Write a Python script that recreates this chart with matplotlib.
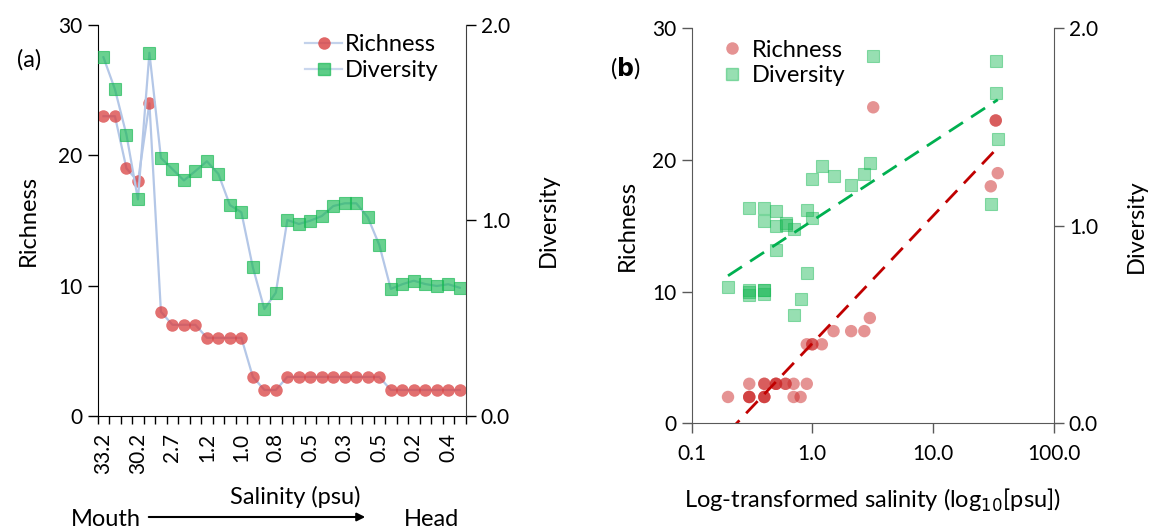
import numpy as np
import matplotlib
matplotlib.use("Agg")
import matplotlib.pyplot as plt
from matplotlib.lines import Line2D

plt.rcParams['font.family'] = ['Lato', 'DejaVu Sans']

# ---- data (32 sites, mouth -> head) ----
salinity = [33.2, 33.2, 34.5, 30.2, 3.2, 3.0, 2.7, 2.1, 1.5, 1.2, 1.0, 0.9, 1.0, 0.9, 0.7, 0.8,
            0.6, 0.7, 0.5, 0.4, 0.5, 0.3, 0.4, 0.6, 0.5, 0.3, 0.4, 0.2, 0.3, 0.3, 0.4, 0.4]
richness = [23, 23, 19, 18, 24, 8, 7, 7, 7, 6, 6, 6, 6, 3, 2, 2,
            3, 3, 3, 3, 3, 3, 3, 3, 3, 2, 2, 2, 2, 2, 2, 2]
diversity = [1.835, 1.671, 1.439, 1.108, 1.858, 1.320, 1.263, 1.205, 1.253, 1.303, 1.238,
             1.079, 1.042, 0.760, 0.547, 0.631, 1.003, 0.982, 0.999, 1.023, 1.074, 1.088,
             1.088, 1.016, 0.875, 0.650, 0.674, 0.692, 0.675, 0.665, 0.674, 0.656]
label_step = 3
logx_ticks = [0.1, 1.0, 10.0, 100.0]

RED_A = '#d94040'
GRN = '#19b955'
RED_B = '#cc2929'
LINE = '#b4c7e7'
FS = 15     # tick labels
FL = 17     # axis labels, legends

fig = plt.figure(figsize=(11.49, 5.28), dpi=100)

# ================= panel (a) =================
W, H = 1149, 528
axa = fig.add_axes([97.7 / W, 1 - 416 / H, (465.5 - 97.7) / W, (416 - 25) / H])
axa2 = axa.twinx()
n = len(richness)
x = np.arange(n)
axa.plot(x, richness, color=LINE, lw=1.6, zorder=1)
axa.plot(x, richness, 'o', ms=9, color=RED_A, alpha=0.75, mec='none', zorder=2)
axa2.plot(x, diversity, color=LINE, lw=1.6, zorder=1)
axa2.plot(x, diversity, 's', ms=8.5, color=GRN, alpha=0.65, mec=GRN, mew=0.8, zorder=2)

axa.set_xlim(-0.5, n - 0.5)
axa.set_ylim(0, 30)
axa2.set_ylim(0, 2)
axa.set_yticks([0, 10, 20, 30])
axa2.set_yticks([0, 1, 2])
axa2.set_yticklabels(['0.0', '1.0', '2.0'])
idx = list(range(0, n, label_step))
axa.set_xticks(idx)
axa.set_xticklabels([f"{salinity[i]:.1f}" for i in idx], rotation=90)
axa.set_xticks(np.arange(-0.5, n, 1.0), minor=True)
axa.tick_params(axis='x', which='major', length=0, pad=12, labelsize=FS)
axa.tick_params(axis='x', which='minor', length=6, width=1, direction='out')
axa.tick_params(axis='y', length=7, width=1, labelsize=FS, pad=4)
axa2.tick_params(axis='y', length=7, width=1, labelsize=FS, pad=4)
for ax in (axa, axa2):
    ax.spines['top'].set_visible(False)
axa.spines['right'].set_visible(False)
axa2.spines['left'].set_visible(False)
axa2.spines['bottom'].set_visible(False)
axa.spines['left'].set_color('black')
axa2.spines['right'].set_color('#404040')
axa.set_ylabel('Richness', fontsize=FL, labelpad=14)
axa2.set_ylabel('Diversity', fontsize=FL, labelpad=20)
axa.text(-0.187, 0.91, '(a)', transform=axa.transAxes, fontsize=FL, ha='center', va='center')

h1 = Line2D([], [], color=LINE, lw=1.6, marker='o', ms=9, mfc=RED_A, mec='none', alpha=0.8)
h2 = Line2D([], [], color=LINE, lw=1.6, marker='s', ms=8.5, mfc=GRN, mec=GRN, alpha=0.7)
axa2.legend([h1, h2], ['Richness', 'Diversity'], loc='upper left', bbox_to_anchor=(0.537, 1.0),
            frameon=False, fontsize=FL, handlelength=1.6, handletextpad=0.1, labelspacing=0.2,
            borderaxespad=0)

fig.text(295 / W, 1 - 497 / H, 'Salinity (psu)', fontsize=FL, ha='center', va='center')
fig.text(106 / W, 1 - 519 / H, 'Mouth', fontsize=FL, ha='center', va='center')
fig.text(432 / W, 1 - 519 / H, 'Head', fontsize=FL, ha='center', va='center')
fig.add_artist(matplotlib.patches.FancyArrowPatch((146 / W, 1 - 517 / H), (368 / W, 1 - 517 / H),
               transform=fig.transFigure, arrowstyle='-|>', mutation_scale=12, lw=1.5, color='black'))

# ================= panel (b) =================
axb = fig.add_axes([691.7 / W, 1 - 423.3 / H, (1053.5 - 691.7) / W, (423.3 - 28.3) / H])
axb2 = axb.twinx()
axb.set_xscale('log')
axb.scatter(salinity, richness, s=80, marker='o', color=RED_B, alpha=0.5, edgecolors='none',
            zorder=2)
axb2.scatter(salinity, diversity, s=85, marker='s', color=GRN, alpha=0.45, edgecolors=GRN,
             linewidths=0.8, zorder=2)

lx = np.log10(salinity)
xs = np.array([min(salinity), max(salinity)])
pr = np.polyfit(lx, richness, 1)
pd_ = np.polyfit(lx, diversity, 1)
axb.plot(xs, np.polyval(pr, np.log10(xs)), color='#c00000', lw=2, dashes=(6, 3.5), zorder=3)
axb2.plot(xs, np.polyval(pd_, np.log10(xs)), color='#00b050', lw=2, dashes=(6, 3.5), zorder=3)

axb.set_xlim(0.1, 100)
axb.set_ylim(0, 30)
axb2.set_ylim(0, 2)
axb.set_xticks(logx_ticks)
axb.set_xticklabels([f"{v:.1f}" for v in logx_ticks])
axb.xaxis.set_minor_locator(matplotlib.ticker.NullLocator())
axb.set_yticks([0, 10, 20, 30])
axb2.set_yticks([0, 1, 2])
axb2.set_yticklabels(['0.0', '1.0', '2.0'])
axb.tick_params(axis='x', length=7, width=1, labelsize=FS, pad=8, color='#595959')
axb.tick_params(axis='y', length=7, width=1, labelsize=FS, pad=4, color='#595959')
axb2.tick_params(axis='y', length=7, width=1, labelsize=FS, pad=4, color='#595959')
for ax in (axb, axb2):
    ax.spines['top'].set_visible(False)
axb.spines['right'].set_visible(False)
axb2.spines['left'].set_visible(False)
axb2.spines['bottom'].set_visible(False)
for s in ('left', 'bottom'):
    axb.spines[s].set_color('#595959')
axb2.spines['right'].set_color('#595959')
axb.set_ylabel('Richness', fontsize=FL, labelpad=10)
axb2.set_ylabel('Diversity', fontsize=FL, labelpad=20)
axb.set_xlabel('Log-transformed salinity (log$_{10}$[psu])', fontsize=FL, labelpad=16)
axb.text(-0.184, 0.90, r'($\mathbf{b}$)', transform=axb.transAxes, fontsize=FL, ha='center',
         va='center')

hb1 = Line2D([], [], ls='none', marker='o', ms=9, mfc=RED_B, mec='none', alpha=0.5)
hb2 = Line2D([], [], ls='none', marker='s', ms=9, mfc=GRN, mec=GRN, alpha=0.45)
axb2.legend([hb1, hb2], ['Richness', 'Diversity'], loc='upper left', bbox_to_anchor=(0.055, 0.995),
            frameon=False, fontsize=FL, handlelength=0.9, handletextpad=0.4, labelspacing=0.2,
            borderaxespad=0)

fig.savefig('out.png', dpi=100)
